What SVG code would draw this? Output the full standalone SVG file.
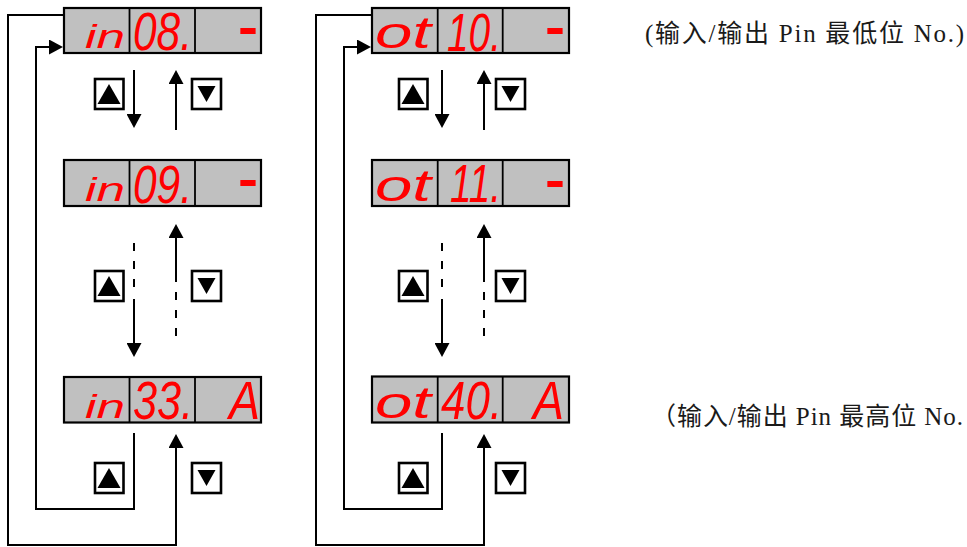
<svg xmlns="http://www.w3.org/2000/svg" width="967" height="547" viewBox="0 0 967 547">
<style>
.bg{fill:#c0c0c0;stroke:#000;stroke-width:2.2}
.dv{stroke:#000;stroke-width:1.8}
.seg{font-family:"Liberation Sans",Arial,sans-serif;font-weight:normal;font-style:italic;fill:#ff0000}
.big{font-size:54px}
.sm{font-size:34px}
.mid{font-size:44px}
.hy{font-size:50px;font-style:normal;font-weight:bold}
.btn{fill:#fff;stroke:#000;stroke-width:2.6}
.tri{fill:#000}
.ln{fill:none;stroke:#000;stroke-width:2}
.dash{stroke-dasharray:8 10}
.lbl{font-family:"Liberation Serif","Noto Sans CJK SC",serif;font-size:25px;fill:#1a1a1a}
</style>
<defs>
<marker id="ah" viewBox="0 0 14 15" refX="10" refY="7.5" markerWidth="14" markerHeight="15" markerUnits="userSpaceOnUse" orient="auto">
<path d="M0,0 L14,7.5 L0,15 Z" fill="#000"/>
</marker>
<g id="bup"><rect class="btn" x="0" y="0" width="28.5" height="30"/><polygon class="tri" points="2.5,25 25.5,25 14,5"/></g>
<g id="bdn"><rect class="btn" x="0" y="0" width="29" height="30"/><polygon class="tri" points="5.5,7 23.5,7 14.5,23"/></g>
</defs>

<!-- Left column displays -->
<g id="in08">
<rect class="bg" x="64" y="8" width="197" height="45"/>
<line class="dv" x1="129.5" y1="8" x2="129.5" y2="53"/><line class="dv" x1="195" y1="8" x2="195" y2="53"/>
<text class="seg sm" x="85" y="48" textLength="40" lengthAdjust="spacingAndGlyphs">in</text>
<text class="seg big" x="133" y="50" textLength="59" lengthAdjust="spacingAndGlyphs">08.</text>
<text class="seg hy" x="238" y="43.5" textLength="20" lengthAdjust="spacingAndGlyphs">-</text>
</g>
<g id="in09">
<rect class="bg" x="64" y="160" width="197" height="46"/>
<line class="dv" x1="129.5" y1="160" x2="129.5" y2="206"/><line class="dv" x1="195" y1="160" x2="195" y2="206"/>
<text class="seg sm" x="85" y="201" textLength="40" lengthAdjust="spacingAndGlyphs">in</text>
<text class="seg big" x="133" y="202.5" textLength="59" lengthAdjust="spacingAndGlyphs">09.</text>
<text class="seg hy" x="238" y="195.5" textLength="20" lengthAdjust="spacingAndGlyphs">-</text>
</g>
<g id="in33">
<rect class="bg" x="64" y="377" width="197" height="45.5"/>
<line class="dv" x1="129.5" y1="377" x2="129.5" y2="422.5"/><line class="dv" x1="195" y1="377" x2="195" y2="422.5"/>
<text class="seg sm" x="85" y="418" textLength="40" lengthAdjust="spacingAndGlyphs">in</text>
<text class="seg big" x="133" y="419" textLength="60" lengthAdjust="spacingAndGlyphs">33.</text>
<text class="seg big" x="229" y="419" textLength="31" lengthAdjust="spacingAndGlyphs">A</text>
</g>

<!-- Right column displays -->
<g id="ot10">
<rect class="bg" x="372" y="8" width="197" height="45"/>
<line class="dv" x1="437.7" y1="8" x2="437.7" y2="53"/><line class="dv" x1="502.7" y1="8" x2="502.7" y2="53"/>
<text class="seg mid" x="375" y="48" textLength="56" lengthAdjust="spacingAndGlyphs">ot</text>
<text class="seg big" x="447" y="50.5" textLength="54" lengthAdjust="spacingAndGlyphs">10.</text>
<text class="seg hy" x="545" y="44" textLength="20" lengthAdjust="spacingAndGlyphs">-</text>
</g>
<g id="ot11">
<rect class="bg" x="372" y="160" width="197" height="46"/>
<line class="dv" x1="437.7" y1="160" x2="437.7" y2="206"/><line class="dv" x1="502.7" y1="160" x2="502.7" y2="206"/>
<text class="seg mid" x="375" y="201" textLength="56" lengthAdjust="spacingAndGlyphs">ot</text>
<text class="seg big" x="450" y="202" textLength="51" lengthAdjust="spacingAndGlyphs">11.</text>
<text class="seg hy" x="545" y="196.5" textLength="20" lengthAdjust="spacingAndGlyphs">-</text>
</g>
<g id="ot40">
<rect class="bg" x="372" y="376.5" width="197" height="46"/>
<line class="dv" x1="437.7" y1="376.5" x2="437.7" y2="422.5"/><line class="dv" x1="502.7" y1="376.5" x2="502.7" y2="422.5"/>
<text class="seg mid" x="375" y="418" textLength="56" lengthAdjust="spacingAndGlyphs">ot</text>
<text class="seg big" x="441" y="418.5" textLength="61" lengthAdjust="spacingAndGlyphs">40.</text>
<text class="seg big" x="533" y="418.5" textLength="31" lengthAdjust="spacingAndGlyphs">A</text>
</g>

<!-- Buttons -->
<g id="buttons">
<use href="#bup" x="95" y="79"/><use href="#bdn" x="192" y="79"/>
<use href="#bup" x="95" y="271"/><use href="#bdn" x="192" y="271"/>
<use href="#bup" x="95" y="463"/><use href="#bdn" x="192" y="463"/>
<use href="#bup" x="399" y="79"/><use href="#bdn" x="496" y="79"/>
<use href="#bup" x="399" y="271"/><use href="#bdn" x="496" y="271"/>
<use href="#bup" x="399" y="463"/><use href="#bdn" x="496" y="463"/>
</g>

<!-- Connectors -->
<g id="connectors">
<line class="ln" x1="134" y1="70" x2="134" y2="124" marker-end="url(#ah)"/>
<line class="ln" x1="176" y1="130" x2="176" y2="74" marker-end="url(#ah)"/>
<line class="ln dash" x1="134" y1="243" x2="134" y2="289"/>
<line class="ln" x1="134" y1="299" x2="134" y2="353" marker-end="url(#ah)"/>
<line class="ln" x1="176" y1="282" x2="176" y2="228" marker-end="url(#ah)"/>
<line class="ln dash" x1="176" y1="292" x2="176" y2="338"/>
<polyline class="ln" points="64,15 8,15 8,545 176,545 176,438" marker-end="url(#ah)"/>
<polyline class="ln" points="134,433 134,509 36,509 36,47 59,47" marker-end="url(#ah)"/>

<line class="ln" x1="442" y1="70" x2="442" y2="124" marker-end="url(#ah)"/>
<line class="ln" x1="484" y1="130" x2="484" y2="74" marker-end="url(#ah)"/>
<line class="ln dash" x1="442" y1="243" x2="442" y2="289"/>
<line class="ln" x1="442" y1="299" x2="442" y2="353" marker-end="url(#ah)"/>
<line class="ln" x1="484" y1="282" x2="484" y2="228" marker-end="url(#ah)"/>
<line class="ln dash" x1="484" y1="292" x2="484" y2="338"/>
<polyline class="ln" points="372,15 316,15 316,545 484,545 484,438" marker-end="url(#ah)"/>
<polyline class="ln" points="442,433 442,509 344,509 344,47 367,47" marker-end="url(#ah)"/>
</g>

<!-- Labels -->
<g id="labels">
<text class="lbl" x="645" y="41.5" textLength="319" lengthAdjust="spacing">(输入/输出 Pin 最低位 No.)</text>
<text class="lbl" x="651" y="425" textLength="312" lengthAdjust="spacing">（输入/输出 Pin 最高位 No.</text>
</g>
</svg>
